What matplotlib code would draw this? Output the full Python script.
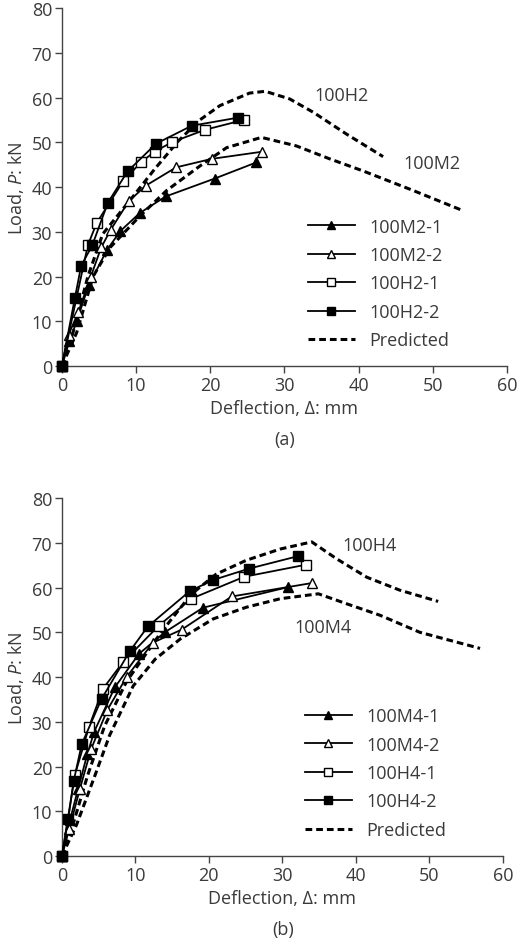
import matplotlib.pyplot as plt

plt.rcParams['font.family'] = ['Open Sans', 'DejaVu Sans']
plt.rcParams['mathtext.fontset'] = 'custom'
plt.rcParams['mathtext.rm'] = 'Open Sans'
plt.rcParams['mathtext.it'] = 'Open Sans:italic'

TXT = '#3a3a3a'
FS = 13

# (a) 100M2 / 100H2
m2_1_x = [0, 1.0, 2.0, 3.6, 6.1, 7.9, 10.5, 14.0, 20.6, 26.2]
m2_1_y = [0, 5.5, 10.0, 18.0, 26.0, 30.2, 34.2, 37.9, 41.9, 45.5]
m2_2_x = [0, 0.9, 2.2, 3.9, 5.3, 6.6, 9.0, 11.3, 15.4, 20.2, 27.0]
m2_2_y = [0, 7.0, 12.0, 20.0, 26.5, 30.5, 36.8, 40.3, 44.4, 46.3, 47.9]
h2_1_x = [0, 3.5, 4.7, 8.3, 10.7, 12.5, 14.8, 19.3, 24.5]
h2_1_y = [0, 27.0, 32.0, 41.4, 45.6, 47.9, 50.0, 52.8, 55.0]
h2_2_x = [0, 1.75, 2.6, 4.1, 6.2, 8.85, 12.7, 17.5, 23.7]
h2_2_y = [0, 15.2, 22.4, 27.0, 36.5, 43.5, 49.7, 53.7, 55.5]
pred_h2_x = [0, 1.5, 3.5, 5.5, 9.4, 12.5, 15.7, 18.6, 21.3, 25.3, 27.4, 30.7, 33.9, 38.4, 43.3]
pred_h2_y = [0, 7.5, 20.0, 29.5, 37.5, 44.0, 50.3, 55.0, 58.2, 61.0, 61.4, 59.7, 56.7, 51.8, 46.8]
pred_m2_x = [0, 2.0, 4.2, 6.5, 10.5, 14.1, 18.6, 22.2, 26.9, 31.6, 36.1, 40.6, 47.4, 54.1]
pred_m2_y = [0, 7.5, 20.0, 26.5, 33.5, 39.2, 44.7, 48.8, 51.1, 49.2, 46.3, 43.6, 39.2, 34.7]

# (b) 100M4 / 100H4
m4_1_x = [0, 1.1, 2.2, 3.45, 4.4, 7.2, 10.5, 14.0, 19.2, 30.8]
m4_1_y = [0, 8.0, 15.0, 22.7, 27.8, 37.7, 45.2, 50.0, 55.5, 60.1]
m4_2_x = [0, 1.0, 2.45, 4.0, 6.2, 8.8, 12.4, 16.3, 23.1, 34.0]
m4_2_y = [0, 6.0, 15.0, 24.0, 32.7, 40.0, 47.7, 50.6, 58.0, 61.0]
h4_1_x = [0, 1.77, 3.7, 5.6, 8.3, 13.2, 17.6, 24.8, 33.2]
h4_1_y = [0, 18.1, 28.9, 37.4, 43.3, 51.5, 57.5, 62.4, 65.1]
h4_2_x = [0, 0.86, 1.6, 2.7, 5.4, 9.25, 11.7, 17.4, 20.6, 25.4, 32.1]
h4_2_y = [0, 8.3, 16.7, 25.0, 35.1, 45.8, 51.3, 59.2, 61.7, 64.2, 67.0]
pred_h4_x = [0, 1.5, 3.5, 5.8, 8.8, 13.5, 17.6, 21.0, 25.1, 29.7, 34.0, 37.4, 41.5, 46.0, 51.2]
pred_h4_y = [0, 7.0, 18.0, 29.0, 39.0, 50.0, 58.5, 63.0, 66.1, 68.6, 70.2, 66.4, 62.3, 59.4, 56.9]
pred_m4_x = [0, 2.0, 4.5, 6.5, 9.7, 12.7, 16.1, 20.6, 25.1, 29.7, 34.9, 38.7, 43.3, 48.7, 56.9]
pred_m4_y = [0, 7.0, 18.0, 27.0, 38.0, 44.0, 48.5, 53.0, 55.6, 57.5, 58.6, 56.4, 53.8, 50.0, 46.4]

x_ticks = [0, 10, 20, 30, 40, 50, 60]
y_ticks = [0, 10, 20, 30, 40, 50, 60, 70, 80]


def style_axes(ax):
    ax.set_xlim(0, 60)
    ax.set_ylim(0, 80)
    ax.set_xticks(x_ticks)
    ax.set_yticks(y_ticks)
    for s in ['top', 'right']:
        ax.spines[s].set_visible(False)
    for s in ['left', 'bottom']:
        ax.spines[s].set_color('#444444')
        ax.spines[s].set_linewidth(1.0)
    ax.tick_params(direction='out', length=5, width=1, color='#444444',
                   labelsize=FS, labelcolor=TXT, pad=2)
    ax.set_xlabel('Deflection, \u0394: mm', fontsize=FS, color=TXT, labelpad=4)
    ax.set_ylabel('Load, $\\it{P}$: kN', fontsize=FS, color=TXT, labelpad=4)


def draw_panel(ax, s1, s2, s3, s4, pa, pb, names, lab_a, lab_b, leg_xy):
    kw = dict(color='black', lw=1.3, clip_on=False, zorder=3)
    ax.plot(*s1, marker='^', ms=7, mfc='black', mec='black', label=names[0], **kw)
    ax.plot(*s2, marker='^', ms=7, mfc='white', mec='black', mew=1.0, label=names[1], **kw)
    ax.plot(*s3, marker='s', ms=7, mfc='white', mec='black', mew=1.0, label=names[2], **kw)
    ax.plot(*s4, marker='s', ms=7.5, mfc='black', mec='black', label=names[3], **kw)
    ax.plot(*pa, color='black', lw=2.2, ls=(0, (2.2, 1.3)), label='Predicted', zorder=2)
    ax.plot(*pb, color='black', lw=2.2, ls=(0, (2.2, 1.3)), zorder=2)
    ax.text(*lab_a[0], lab_a[1], fontsize=FS, color=TXT)
    ax.text(*lab_b[0], lab_b[1], fontsize=FS, color=TXT)
    leg = ax.legend(loc='center left', bbox_to_anchor=leg_xy,
                    bbox_transform=ax.figure.transFigure, frameon=False,
                    fontsize=FS, handlelength=2.6, labelspacing=0.58,
                    handletextpad=0.8, borderpad=0, borderaxespad=0,
                    markerscale=0.75)
    for t in leg.get_texts():
        t.set_color(TXT)


fig = plt.figure(figsize=(5.2, 9.45), dpi=100)
ax1 = fig.add_axes([0.119, 0.6116, 0.856, 0.3788])
ax2 = fig.add_axes([0.119, 0.0931, 0.848, 0.3788])

style_axes(ax1)
draw_panel(ax1, (m2_1_x, m2_1_y), (m2_2_x, m2_2_y), (h2_1_x, h2_1_y), (h2_2_x, h2_2_y),
           (pred_h2_x, pred_h2_y), (pred_m2_x, pred_m2_y),
           ['100M2-1', '100M2-2', '100H2-1', '100H2-2'],
           ((34.0, 59.5), '100H2'), ((46.0, 44.2), '100M2'),
           (308 / 520, 1 - 284.5 / 945))

style_axes(ax2)
draw_panel(ax2, (m4_1_x, m4_1_y), (m4_2_x, m4_2_y), (h4_1_x, h4_1_y), (h4_2_x, h4_2_y),
           (pred_h4_x, pred_h4_y), (pred_m4_x, pred_m4_y),
           ['100M4-1', '100M4-2', '100H4-1', '100H4-2'],
           ((38.2, 68.3), '100H4'), ((31.6, 50.0), '100M4'),
           (305 / 520, 1 - 774 / 945))

fig.text(285 / 520, 1 - 440 / 945, '(a)', ha='center', va='center', fontsize=FS, color=TXT)
fig.text(283 / 520, 1 - 930 / 945, '(b)', ha='center', va='center', fontsize=FS, color=TXT)

fig.savefig('out.png', dpi=100)
